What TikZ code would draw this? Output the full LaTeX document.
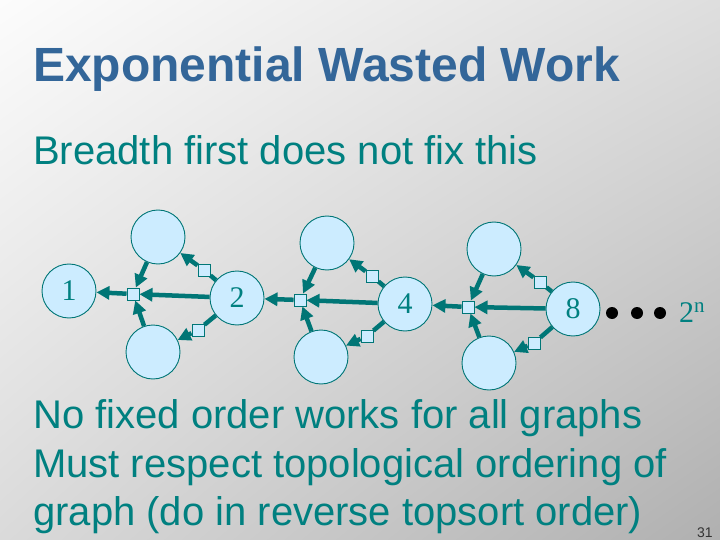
\documentclass[tikz,border=0pt]{standalone}
\usepackage{fontspec}
\setmainfont{Liberation Sans}
\newfontfamily\serifnum{Liberation Serif}
\usetikzlibrary{arrows.meta,shadings}
\definecolor{bgUL}{RGB}{252,252,252}
\definecolor{bgUR}{RGB}{222,222,222}
\definecolor{bgLL}{RGB}{218,218,218}
\definecolor{bgLR}{RGB}{176,176,176}
\definecolor{titleblue}{RGB}{51,102,153}
\definecolor{tealtxt}{RGB}{0,128,128}
\definecolor{cyanfill}{RGB}{204,236,255}
\definecolor{edgecol}{RGB}{0,118,118}
\begin{document}
\begin{tikzpicture}[x=1pt,y=-1pt,
  vert/.style={circle, draw=edgecol, line width=0.9pt, fill=cyanfill, minimum size=54pt, inner sep=0pt,
    font=\serifnum\fontsize{30}{30}\selectfont, text=tealtxt},
  hsq/.style={rectangle, draw=edgecol, line width=0.9pt, fill=cyanfill, minimum size=12pt, inner sep=0pt},
  dep/.style={draw=edgecol, line width=4.5pt, -{Triangle[length=13pt,width=13pt]}},
  link/.style={draw=edgecol, line width=4.5pt},
  blackdot/.style={circle, fill=black, minimum size=12pt, inner sep=0pt},
  titletext/.style={anchor=base west, inner sep=0pt, text=titleblue, font=\bfseries\fontsize{48}{48}\selectfont},
  bodytext/.style={anchor=base west, inner sep=0pt, text=tealtxt, font=\fontsize{40}{40}\selectfont}]
\shade[upper left=bgUL, upper right=bgUR, lower left=bgLL, lower right=bgLR] (0,0) rectangle (720,540);
\useasboundingbox (0,0) rectangle (720,540);

\node[titletext] (title) at (33,82) {Exponential Wasted Work};
\node[bodytext] (l1) at (33,165) {Breadth first does not fix this};
\node[bodytext] (l2) at (33,428) {No fixed order works for all graphs};
\node[bodytext] (l3) at (33,477) {Must respect topological ordering of};
\node[bodytext] (l4) at (33,525) {graph (do in reverse topsort order)};
\node[anchor=base west, inner sep=0pt, font=\fontsize{14}{14}\selectfont, text=black!80] (pg) at (697,537) {31};

% main vertices
\node[vert] (n1) at (69,291) {1};
\node[vert] (n2) at (237,298) {2};
\node[vert] (n4) at (405,304) {4};
\node[vert] (n8) at (573,309) {8};

% group A
\node[vert] (tA) at (158,237) {};
\node[vert] (bA) at (153,352) {};
\node[hsq] (sA) at (133,294) {};
\node[hsq] (stA) at (204,270) {};
\node[hsq] (sbA) at (198,330) {};
% group B
\node[vert] (tB) at (327,243) {};
\node[vert] (bB) at (321,357) {};
\node[hsq] (sB) at (300,300) {};
\node[hsq] (stB) at (372,276) {};
\node[hsq] (sbB) at (367,336) {};
% group C
\node[vert] (tC) at (494,249) {};
\node[vert] (bC) at (489,363) {};
\node[hsq] (sC) at (468,307) {};
\node[hsq] (stC) at (540,282) {};
\node[hsq] (sbC) at (534,343) {};

% edges group A
\draw[dep] (n2) -- (sA);
\draw[dep] (sA) -- (n1);
\draw[dep] (tA) -- (sA);
\draw[dep] (bA) -- (sA);
\draw[link] (n2) -- (stA);
\draw[dep] (stA) -- (tA);
\draw[link] (n2) -- (sbA);
\draw[dep] (sbA) -- (bA);
% edges group B
\draw[dep] (n4) -- (sB);
\draw[dep] (sB) -- (n2);
\draw[dep] (tB) -- (sB);
\draw[dep] (bB) -- (sB);
\draw[link] (n4) -- (stB);
\draw[dep] (stB) -- (tB);
\draw[link] (n4) -- (sbB);
\draw[dep] (sbB) -- (bB);
% edges group C
\draw[dep] (n8) -- (sC);
\draw[dep] (sC) -- (n4);
\draw[dep] (tC) -- (sC);
\draw[dep] (bC) -- (sC);
\draw[link] (n8) -- (stC);
\draw[dep] (stC) -- (tC);
\draw[link] (n8) -- (sbC);
\draw[dep] (sbC) -- (bC);

% dots and 2^n
\node[blackdot] (d1) at (612,313) {};
\node[blackdot] (d2) at (637,313) {};
\node[blackdot] (d3) at (660,313) {};
\node[anchor=base west, inner sep=0pt, text=tealtxt, font=\serifnum\fontsize{30}{30}\selectfont] (pow) at (679,322) {2\textsuperscript{n}};
\end{tikzpicture}
\end{document}
